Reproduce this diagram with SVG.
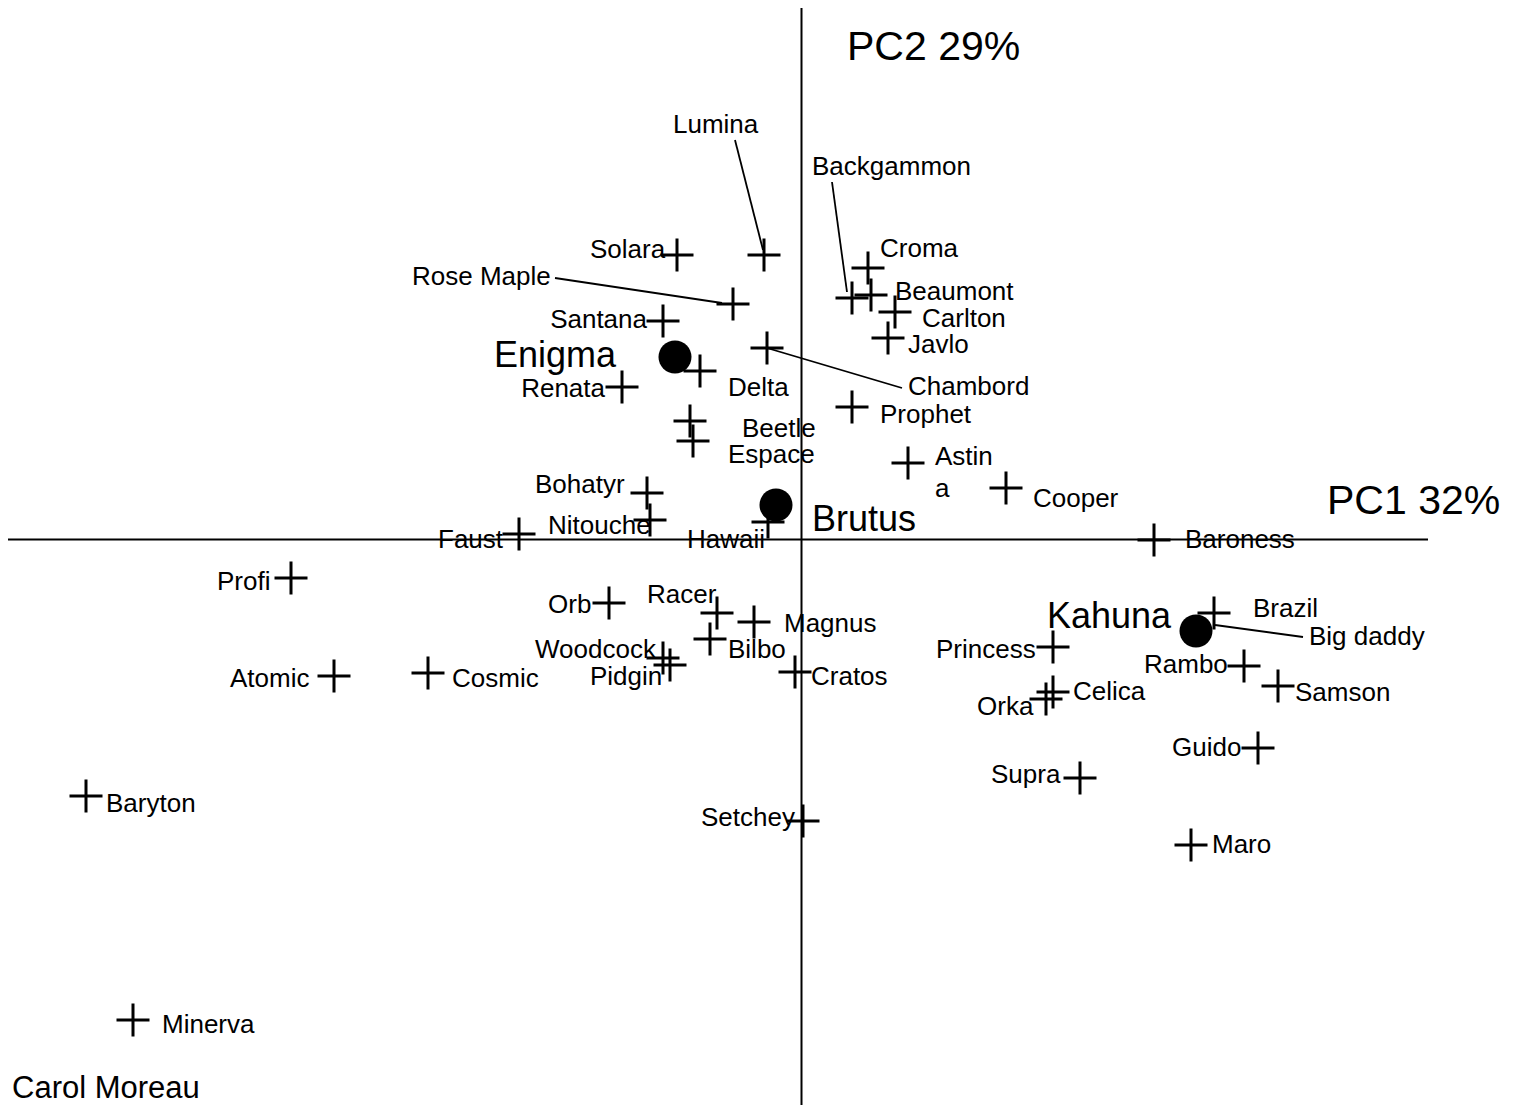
<svg xmlns="http://www.w3.org/2000/svg" xmlns:xlink="http://www.w3.org/1999/xlink" width="1520" height="1111" viewBox="0 0 1520 1111">
<style>
text{font-family:"Liberation Sans",Arial,sans-serif;font-size:26px;fill:#000}
.big{font-size:36px}
.ax{font-size:41px}
.axis{stroke:#000;stroke-width:2;fill:none}
.lead{stroke:#000;stroke-width:1.8;fill:none}
.dot{fill:#000}
</style>
<defs>
<path id="x" d="M-16.5,0H16.5M0,-16.5V16.5" stroke="#000" stroke-width="3" fill="none"/>
</defs>
<rect width="1520" height="1111" fill="#fff"/>
<g id="axes">
<line class="axis" x1="801.5" y1="8" x2="801.5" y2="1105"/>
<line class="axis" x1="8" y1="539.5" x2="1428" y2="539.5"/>
<text class="ax" x="847" y="60">PC2 29%</text>
<text class="ax" x="1327" y="514">PC1 32%</text>
</g>
<g id="connectors">
<line class="lead" x1="735" y1="140" x2="763" y2="250"/>
<line class="lead" x1="555" y1="278" x2="722" y2="303"/>
<line class="lead" x1="832" y1="182" x2="847" y2="292"/>
<line class="lead" x1="767" y1="348" x2="902" y2="388"/>
<line class="lead" x1="1215" y1="625" x2="1303" y2="637"/>
</g>
<g id="n-solara"><use href="#x" x="677" y="255"/><text x="590" y="258">Solara</text></g>
<g id="n-lumina"><use href="#x" x="764" y="255"/><text x="673" y="133">Lumina</text></g>
<g id="n-rosemaple"><use href="#x" x="733" y="304"/><text x="412" y="285">Rose Maple</text></g>
<g id="n-santana"><use href="#x" x="663" y="321"/><text x="647" y="328" text-anchor="end">Santana</text></g>
<g id="n-delta"><use href="#x" x="700" y="371"/><text x="728" y="396">Delta</text></g>
<g id="n-chambord"><use href="#x" x="767" y="348"/><text x="908" y="395">Chambord</text></g>
<g id="n-renata"><use href="#x" x="622" y="387"/><text x="605" y="397" text-anchor="end">Renata</text></g>
<g id="n-croma"><use href="#x" x="868" y="268"/><text x="880" y="257">Croma</text></g>
<g id="n-backgammon"><use href="#x" x="852" y="298"/><text x="812" y="175">Backgammon</text></g>
<g id="n-beaumont"><use href="#x" x="871" y="295"/><text x="895" y="300">Beaumont</text></g>
<g id="n-carlton"><use href="#x" x="895" y="312"/><text x="922" y="327">Carlton</text></g>
<g id="n-javlo"><use href="#x" x="888" y="338"/><text x="908" y="353">Javlo</text></g>
<g id="n-prophet"><use href="#x" x="852" y="407"/><text x="880" y="423">Prophet</text></g>
<g id="n-beetle"><use href="#x" x="690" y="421"/><text x="742" y="437">Beetle</text></g>
<g id="n-espace"><use href="#x" x="693" y="441"/><text x="728" y="463">Espace</text></g>
<g id="n-astina"><use href="#x" x="908" y="463"/><text x="935" y="465">Astin</text><text x="935" y="497">a</text></g>
<g id="n-cooper"><use href="#x" x="1006" y="488"/><text x="1033" y="507">Cooper</text></g>
<g id="n-bohatyr"><use href="#x" x="647" y="493"/><text x="535" y="493">Bohatyr</text></g>
<g id="n-nitouche"><use href="#x" x="650" y="520"/><text x="548" y="534">Nitouche</text></g>
<g id="n-faust"><use href="#x" x="519" y="534"/><text x="438" y="548">Faust</text></g>
<g id="n-hawaii"><use href="#x" x="768" y="522"/><text x="687" y="548">Hawaii</text></g>
<g id="n-baroness"><use href="#x" x="1154" y="540"/><text x="1185" y="548">Baroness</text></g>
<g id="n-profi"><use href="#x" x="291" y="578"/><text x="217" y="590">Profi</text></g>
<g id="n-orb"><use href="#x" x="609" y="603"/><text x="548" y="613">Orb</text></g>
<g id="n-racer"><use href="#x" x="717" y="613"/><text x="647" y="603">Racer</text></g>
<g id="n-magnus"><use href="#x" x="754" y="622"/><text x="784" y="632">Magnus</text></g>
<g id="n-bilbo"><use href="#x" x="710" y="639"/><text x="728" y="658">Bilbo</text></g>
<g id="n-woodcock"><use href="#x" x="663" y="658"/><text x="535" y="658">Woodcock</text></g>
<g id="n-pidgin"><use href="#x" x="670" y="665"/><text x="590" y="685">Pidgin</text></g>
<g id="n-cratos"><use href="#x" x="795" y="672"/><text x="811" y="685">Cratos</text></g>
<g id="n-atomic"><use href="#x" x="334" y="676"/><text x="230" y="687">Atomic</text></g>
<g id="n-cosmic"><use href="#x" x="428" y="673"/><text x="452" y="687">Cosmic</text></g>
<g id="n-brazil"><use href="#x" x="1214" y="613"/><text x="1253" y="617">Brazil</text></g>
<g id="n-bigdaddy"><text x="1309" y="645">Big daddy</text></g>
<g id="n-princess"><use href="#x" x="1053" y="647"/><text x="936" y="658">Princess</text></g>
<g id="n-celica"><use href="#x" x="1053" y="692"/><text x="1073" y="700">Celica</text></g>
<g id="n-orka"><use href="#x" x="1046" y="699"/><text x="977" y="715">Orka</text></g>
<g id="n-rambo"><use href="#x" x="1244" y="666"/><text x="1144" y="673">Rambo</text></g>
<g id="n-samson"><use href="#x" x="1278" y="686"/><text x="1295" y="701">Samson</text></g>
<g id="n-guido"><use href="#x" x="1258" y="748"/><text x="1172" y="756">Guido</text></g>
<g id="n-supra"><use href="#x" x="1080" y="778"/><text x="991" y="783">Supra</text></g>
<g id="n-setchey"><use href="#x" x="803" y="821"/><text x="701" y="826">Setchey</text></g>
<g id="n-maro"><use href="#x" x="1191" y="845"/><text x="1212" y="853">Maro</text></g>
<g id="n-baryton"><use href="#x" x="86" y="796"/><text x="106" y="812">Baryton</text></g>
<g id="n-minerva"><use href="#x" x="133" y="1020"/><text x="162" y="1033">Minerva</text></g>
<g id="c-enigma"><circle class="dot" cx="675" cy="357" r="16.5"/><text class="big" x="494" y="367">Enigma</text></g>
<g id="c-brutus"><circle class="dot" cx="776" cy="505" r="16.5"/><text class="big" x="812" y="531">Brutus</text></g>
<g id="c-kahuna"><circle class="dot" cx="1196" cy="631" r="16.5"/><text class="big" x="1047" y="628">Kahuna</text></g>
<g id="credit"><text x="12" y="1098" style="font-size:31px">Carol Moreau</text></g>
</svg>
